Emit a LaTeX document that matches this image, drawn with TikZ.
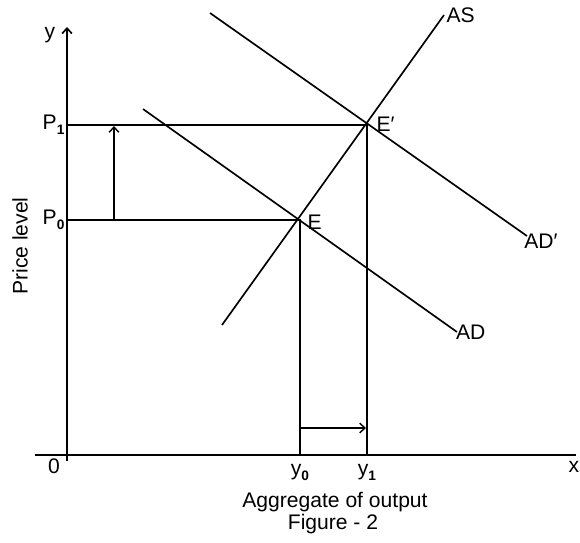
\documentclass[tikz,border=0pt]{standalone}
\usepackage{fontspec}
\setmainfont{Liberation Sans}
\usetikzlibrary{arrows.meta, positioning}

\newcommand{\lowsub}[1]{\raisebox{-0.45ex}{\fontsize{7.8}{8}\selectfont\bfseries #1}}

\begin{document}
\begin{tikzpicture}[
  x=0.02cm, y=-0.02cm,
  line width=0.95pt,
  axis/.style={-{Straight Barb[length=3pt,width=5.5pt]}},
  movearr/.style={-{Straight Barb[length=3pt,width=5.5pt]}, line width=0.8pt},
  curve/.style={line width=0.95pt},
  lbl/.style={font=\fontsize{12}{14}\selectfont, inner sep=1pt},
]
\useasboundingbox (0,0) rectangle (580,542);

%% -- axes --------------------------------------------------------------
\coordinate (O) at (67,455);
\draw[axis] (67,461) -- (67,27) coordinate (ytip);
\draw (35,455) -- (576,455) coordinate (xend);
\node[lbl] (ylbl) at (50,35) {y};
\node[lbl] (xlbl) at (574,467) {x};
\node[lbl] (zero) at (54,466) {0};
\node[lbl, rotate=90] (plbl) at (20,246) {Price level};

%% -- equilibria ---------------------------------------------------------
\coordinate (E) at (300,220);
\coordinate (E1) at (367,125);
\node[lbl, anchor=west] (Elbl) at (305,222) {E};
\node[lbl, anchor=west] (E1lbl) at (374,124) {E\char"2032};

%% -- curves -------------------------------------------------------------
\draw[curve] (222,325) -- (444,15) node[lbl, anchor=west] (ASlbl) {AS};
\draw[curve] (143,109) -- (457,332) node[lbl, anchor=west, xshift=-2pt] (ADlbl) {AD};
\draw[curve] (210,13) -- (527,236) node[lbl, anchor=west, xshift=-3pt, yshift=-3pt] (AD1lbl) {AD\char"2032};

%% -- price and output levels --------------------------------------------
\draw (O |- E1) -- (E1) -- (E1 |- O);
\draw (O |- E) -- (E) -- (E |- O);
\node[lbl, anchor=east] (P1lbl) at (O |- E1) {P\lowsub{1}\hspace{3pt}};
\node[lbl, anchor=east] (P0lbl) at (O |- E) {P\lowsub{0}\hspace{3pt}};
\node[lbl, below=4pt of E |- O] (y0lbl) {y\lowsub{0}};
\node[lbl, below=4pt of E1 |- O] (y1lbl) {y\lowsub{1}};

% shifts
\draw[movearr] (114,220) -- (114,126);
\draw[movearr] (300,428) -- (366,428);

%% -- captions -----------------------------------------------------------
\node[lbl, anchor=base] (xcap) at (335,507) {Aggregate of output};
\node[lbl, anchor=base] (fig) at (333,529) {Figure - 2};

\end{tikzpicture}
\end{document}
